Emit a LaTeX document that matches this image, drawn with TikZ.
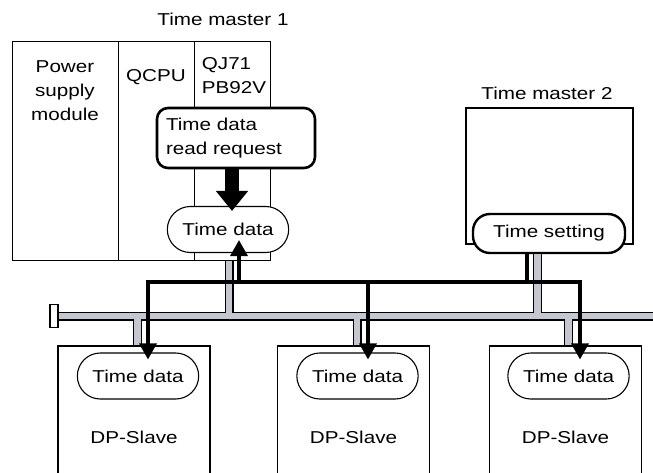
\documentclass[tikz,border=0pt]{standalone}
\usepackage{fontspec}
\setmainfont[FakeStretch=1.2]{Liberation Sans}
\usetikzlibrary{arrows.meta,shapes.misc}

\definecolor{cablegray}{RGB}{196,199,207}

\begin{document}
\begin{tikzpicture}[
  x=1pt,y=-1pt,
  font=\fontsize{17.2}{24}\selectfont,
  box/.style={draw,line width=1.1pt,inner sep=0pt},
  tdata/.style={draw,fill=white,rounded rectangle,line width=1.1pt,minimum width=128pt,minimum height=46pt},
  rbox/.style={draw,fill=white,line width=2.6pt,rounded corners=#1},
  sig/.style={line width=3.4pt},
  sigarrow/.style={sig,-{Triangle[length=16pt,width=17pt]}},
  bigarrow/.style={line width=14pt,-{Triangle[length=20pt,width=31pt]}},
  cable/.style={cablegray,line width=6.4pt,preaction={draw=black,line width=9pt}}
]
\useasboundingbox (0,0) rectangle (653,472);

% Time master 1
\node (tm1lbl) at (223,19) {Time master 1};
\node[box,minimum width=106pt,minimum height=219pt,anchor=north west] (pwr) at (12,41) {};
\node[box,minimum width=76pt,minimum height=219pt,anchor=north west] (cpu) at (118,41) {};
\node[box,minimum width=76pt,minimum height=219pt,anchor=north west] (qj) at (194,41) {};
\node[align=center] (pwrlbl) at (65,91) {Power\\supply\\module};
\node (cpulbl) at (156,77) {QCPU};
\node[align=left] (qjlbl) at (234,76) {QJ71\\PB92V};
\node[rbox=11pt,text width=140pt,minimum width=158pt,minimum height=60pt,align=left] (req) at (236,138) {Time data\\read request};
\node[tdata] (tdm) at (228,229.5) {Time data};

% Time master 2
\node (tm2lbl) at (547,93) {Time master 2};
\node[box,minimum width=167pt,minimum height=136pt] (tm2) at (549.5,176) {};
\node[rbox=17pt,line width=2.4pt,minimum width=152pt,minimum height=39pt] (tset) at (549,233.5) {Time setting};

% slaves
\node[box,minimum width=152pt,minimum height=182pt] (s1) at (134,437) {DP-Slave};
\node[box,minimum width=152pt,minimum height=182pt] (s2) at (353.5,437) {DP-Slave};
\node[box,minimum width=152pt,minimum height=182pt] (s3) at (565.5,437) {DP-Slave};
\node[tdata] (td1) at (138,376) {Time data};
\node[tdata] (td2) at (357.5,376) {Time data};
\node[tdata] (td3) at (568.5,376) {Time data};

% network cable
\node[box,fill=white,minimum width=8pt,minimum height=23pt] (cap) at (54,316) {};
\coordinate (busend) at (660,316);
\coordinate (g0) at ([xshift=-3.5pt]qj.south);
\coordinate (g4) at ([xshift=-11.5pt]tset.south);
\coordinate (g1) at ([xshift=3.5pt]s1.north);
\coordinate (g2) at ([xshift=3.5pt]s2.north);
\coordinate (g3) at ([xshift=3pt]s3.north);
\draw[cable] (cap.east) -- (busend)
  (g0) -- (g0 |- busend) (g4) -- (g4 |- busend)
  (g1) -- (g1 |- busend) (g2) -- (g2 |- busend) (g3) -- (g3 |- busend);

% time data flow
\coordinate (hub) at (527,282);
\coordinate (d1) at ([xshift=10pt]td1.north);
\coordinate (d2) at ([xshift=10.5pt]td2.north);
\coordinate (d3) at ([xshift=11.5pt]td3.north);
\coordinate (u) at ([xshift=11pt]tdm.south);
\draw[sig] ([xshift=-22pt]tset.south) -- (hub);
\draw[sigarrow,shorten >=-7pt] (hub) -| (d1);
\draw[sigarrow,shorten >=-7pt] (hub) -| (d3);
\draw[sigarrow,shorten >=-7pt] (d2 |- hub) -- (d2);
\draw[sigarrow,shorten >=-13pt] (u |- hub) -- (u);
\draw[bigarrow,shorten >=-5pt] ([xshift=-4pt]req.south) -- ([xshift=4pt]tdm.north);
\end{tikzpicture}
\end{document}
